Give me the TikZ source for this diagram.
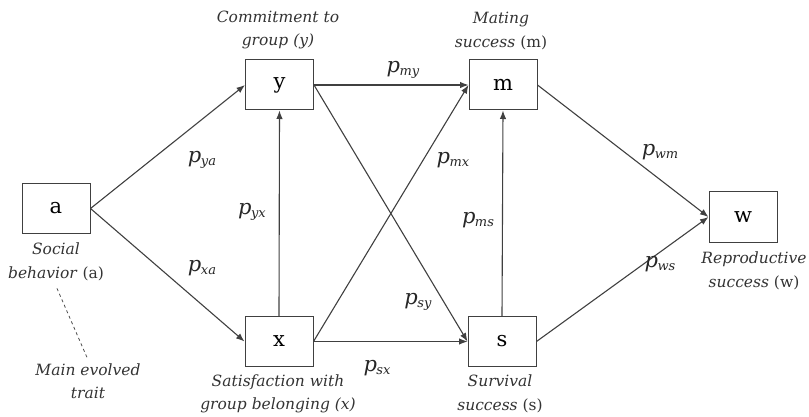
\documentclass[tikz,border=0pt]{standalone}
\usepackage{fontspec}
\setmainfont{DejaVu Serif}
\usetikzlibrary{arrows.meta}
\newcommand{\pcoef}[1]{\textit{p}\kern-0.5pt\raisebox{-0.3ex}{\fontsize{13}{13}\selectfont\textit{#1}}}

\begin{document}
\begin{tikzpicture}[x=1pt, y=-1pt,
    var/.style={draw=black!75, line width=1pt, minimum width=68pt, minimum height=50pt,
                inner sep=0pt, font=\fontsize{21}{21}\selectfont},
    path/.style={draw=black!75, line width=1.1pt, -{Latex[length=8.5pt, width=6.5pt]}},
    coef/.style={font=\fontsize{21}{21}\selectfont, inner sep=1pt, text=black!85},
    caption/.style={align=center, font=\fontsize{15.5}{23.5}\selectfont\color{black!80}}]
            \useasboundingbox (0,0) rectangle (809,417);
            % variables
            \node[var] (a) at (56,208.5) {a};
            \node[var] (y) at (279.5,85) {y};
            \node[var] (x) at (279,341.5) {x};
            \node[var] (m) at (503,85) {m};
            \node[var] (s) at (502,341.5) {s};
            \node[var] (w) at (743,217) {w};
            % paths
            \draw[path] (a.east) -- (y.west);
            \draw[path] (a.east) -- (x.west);
            \draw[path] (x.north) -- (y.south);
            \draw[path] (y.east) -- (m.west);
            \draw[path] (x.east) -- (m.west);
            \draw[path] (y.east) -- (s.west);
            \draw[path] (x.east) -- (s.west);
            \draw[path] (s.north) -- (m.south);
            \draw[path] (m.east) -- (w.west);
            \draw[path] (s.east) -- (w.west);
            % coefficients
            \node[coef] (pya) at (202,160) {\pcoef{ya}};
            \node[coef] (pxa) at (202,268) {\pcoef{xa}};
            \node[coef] (pyx) at (252,212) {\pcoef{yx}};
            \node[coef] (pmy) at (403,70) {\pcoef{my}};
            \node[coef] (pmx) at (453,160) {\pcoef{mx}};
            \node[coef] (pms) at (478,220) {\pcoef{ms}};
            \node[coef] (psy) at (418,302) {\pcoef{sy}};
            \node[coef] (psx) at (377,368) {\pcoef{sx}};
            \node[coef] (pwm) at (660,152) {\pcoef{wm}};
            \node[coef] (pws) at (660,264) {\pcoef{ws}};
            % captions
            \node[caption] (ty) at (278,30) {\textit{Commitment to}\\\textit{group (y)}};
            \node[caption] (tm) at (501,31) {\textit{Mating}\\\textit{success} (m)};
            \node[caption] (ta) at (56,262) {\textit{Social}\\\textit{behavior} (a)};
            \node[caption] (tt) at (88,381) {\textit{Main evolved}\\\textit{trait}};
            \node[caption] (tx) at (278,394) {\textit{Satisfaction with}\\\textit{group belonging (x)}};
            \node[caption] (ts) at (500,394) {\textit{Survival}\\\textit{success} (s)};
            \node[caption] (tw) at (754,271) {\textit{Reproductive}\\\textit{success} (w)};
            \draw[black!70, dashed, line width=0.8pt] (ta.south) ++(1,4) -- (tt.north);
\end{tikzpicture}
\end{document}
